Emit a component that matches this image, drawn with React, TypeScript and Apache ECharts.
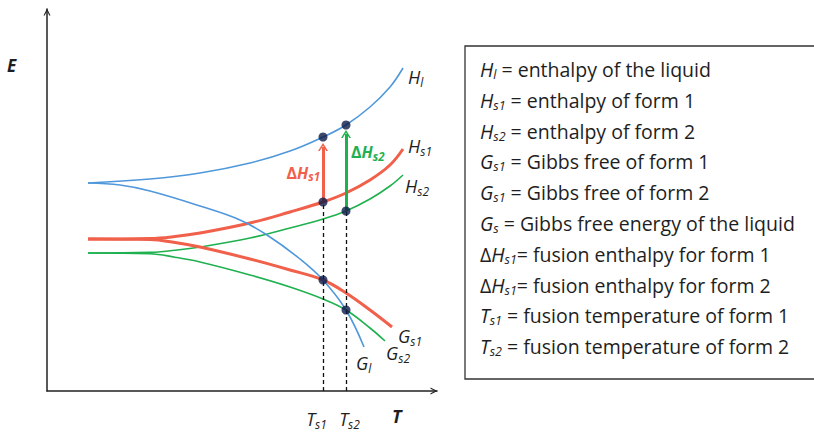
import React, { useEffect, useRef } from "react";
import * as echarts from "echarts";

// ---- data (T, E) ----
const T_S1 = 276;
const T_S2 = 299;

const H_L: [number, number][] = [
  [41, 208], [103, 212], [153, 218], [203, 228], [243, 240], [276, 254],
  [299, 266], [323, 284], [343, 304], [356, 323],
];
const G_L: [number, number][] = [
  [41, 208], [73, 206], [103, 200], [153, 185], [193, 171], [220, 156],
  [253, 132], [276, 111], [299, 81], [317, 44],
];
const H_S1: [number, number][] = [
  [41, 152], [103, 152.5], [128, 154.5], [153, 158], [203, 168], [243, 179], [276, 189],
  [299, 198], [323, 211], [343, 226], [356, 242],
];
const G_S1: [number, number][] = [
  [41, 152], [103, 151.5], [128, 148.5], [153, 144], [203, 132], [243, 121], [276, 111],
  [299, 98], [323, 81], [345, 64],
];
const H_S2: [number, number][] = [
  [41, 138], [103, 138.6], [128, 140.8], [153, 144], [203, 153], [243, 163], [276, 172],
  [299, 180], [323, 192], [343, 205], [356, 216],
];
const G_S2: [number, number][] = [
  [41, 138], [103, 137.3], [128, 133.8], [153, 129], [203, 116], [243, 104], [276, 92],
  [299, 81], [323, 63], [338, 50],
];

const X_MAX = 390;
const Y_MAX = 382;

const LEGEND_LINES: string[] = [
  "{i|H}{s|l}{n| = enthalpy of the liquid}",
  "{i|H}{s|s1}{n| = enthalpy of form 1}",
  "{i|H}{s|s2}{n| = enthalpy of form 2}",
  "{i|G}{s|s1}{n| = Gibbs free of form 1}",
  "{i|G}{s|s1}{n| = Gibbs free of form 2}",
  "{i|G}{s|s}{n| = Gibbs free energy of the liquid}",
  "{n|Δ}{i|H}{s|s1}{n|= fusion enthalpy for form 1}",
  "{n|Δ}{i|H}{s|s1}{n|= fusion enthalpy for form 2}",
  "{i|T}{s|s1}{n| = fusion temperature of form 1}",
  "{i|T}{s|s2}{n| = fusion temperature of form 2}",
];

const FONT = "Open Sans";
const TXT = "#1e1e1e";
const BLUE = "#4f98db";
const RED = "#f0604a";
const GREEN = "#1fb14f";
const DOT = "#0c1a47";
const CHEVRON = "path://M0,10 L5,0 L10,10 L8.3,10 L5,3.4 L1.7,10 Z";

const at = (arr: [number, number][], x: number) => {
  const p = arr.find((d) => d[0] === x);
  return p ? p[1] : 0;
};

const labelRich = {
  i: { fontFamily: FONT, fontStyle: "italic", fontSize: 18, color: TXT, lineHeight: 24, verticalAlign: "middle" },
  s: { fontFamily: FONT, fontStyle: "italic", fontSize: 12, color: TXT, lineHeight: 14, padding: [10, 0, 0, 0], verticalAlign: "middle" },
};

function curve(name: string, data: [number, number][], color: string, width: number, label: string, offset: number[]) {
  return {
    name,
    type: "line",
    data,
    smooth: 0.4,
    showSymbol: false,
    symbol: "none",
    silent: true,
    lineStyle: { color, width },
    z: 3,
    endLabel: {
      show: true,
      formatter: label,
      distance: 0,
      offset,
      align: "left",
      verticalAlign: "middle",
      rich: labelRich,
    },
  };
}

export default function App() {
  const ref = useRef<HTMLDivElement>(null);
  useEffect(() => {
    document.body.style.margin = "0";
    if (!ref.current) return;
    const chart = echarts.init(ref.current, undefined, { renderer: "svg" });

    const hl1 = at(H_L, T_S1), hl2 = at(H_L, T_S2);
    const hs1 = at(H_S1, T_S1), hs2 = at(H_S2, T_S2);
    const g1 = at(G_S1, T_S1), g2 = at(G_S2, T_S2);

    const legendRich = {
      i: { fontFamily: FONT, fontStyle: "italic", fontSize: 19.5, fill: TXT, lineHeight: 30.8, verticalAlign: "middle" },
      s: { fontFamily: FONT, fontStyle: "italic", fontSize: 12.5, fill: TXT, lineHeight: 14, padding: [10, 0, 0, 0], verticalAlign: "middle" },
      n: { fontFamily: FONT, fontSize: 19.5, fill: TXT, lineHeight: 30.8, verticalAlign: "middle" },
    };

    const boldRich = (color: string) => ({
      d: { fontFamily: FONT, fontWeight: "bold", fontSize: 16, color, lineHeight: 22 },
      h: { fontFamily: FONT, fontWeight: "bold", fontStyle: "italic", fontSize: 16, color, lineHeight: 22 },
      s: { fontFamily: FONT, fontWeight: "bold", fontStyle: "italic", fontSize: 11.5, color, lineHeight: 13, padding: [8, 0, 0, 0] },
    });

    chart.setOption({
      animation: false,
      grid: { left: 47, right: 377, top: 9, bottom: 41 },
      xAxis: {
        type: "value",
        min: 0,
        max: X_MAX,
        splitLine: { show: false },
        axisTick: { show: false },
        axisLine: {
          show: true,
          lineStyle: { color: "#222", width: 1.5 },
          symbol: ["none", CHEVRON],
          symbolSize: [10, 7],
          symbolOffset: [0, -3],
        },
        axisLabel: {
          show: true,
          customValues: [T_S1, T_S2],
          margin: 16,
          formatter: (v: number) => (v === T_S1 ? "{T|T}{s|s1}{p1|}" : "{p2|}{T|T}{s|s2}"),
          rich: {
            T: { fontFamily: FONT, fontStyle: "italic", fontSize: 18, color: TXT, lineHeight: 24, verticalAlign: "middle" },
            s: { fontFamily: FONT, fontStyle: "italic", fontSize: 12, color: TXT, lineHeight: 14, padding: [10, 0, 0, 0], verticalAlign: "middle" },
            p1: { width: 13 },
            p2: { width: 7 },
          },
        },
      },
      yAxis: {
        type: "value",
        min: 0,
        max: Y_MAX,
        splitLine: { show: false },
        axisTick: { show: false },
        axisLabel: { show: false },
        axisLine: {
          show: true,
          lineStyle: { color: "#222", width: 1.5 },
          symbol: ["none", CHEVRON],
          symbolSize: [9, 7],
          symbolOffset: [0, -3],
        },
      },
      series: [
        {
          name: "guides",
          type: "line",
          data: [],
          silent: true,
          markLine: {
            silent: true,
            symbol: ["none", "none"],
            label: { show: false },
            lineStyle: { color: "#111", width: 1.3, type: [4, 3] },
            data: [
              [{ coord: [T_S1, 0] }, { coord: [T_S1, hs1] }],
              [{ coord: [T_S2, 0] }, { coord: [T_S2, hs2] }],
            ],
          },
        },
        curve("G_S2", G_S2, GREEN, 1.6, "{i|G}{s|s2}", [1, 12]),
        curve("H_S2", H_S2, GREEN, 1.6, "{i|H}{s|s2}", [2, 11]),
        curve("G_S1", G_S1, RED, 3, "{i|G}{s|s1}", [6, 9]),
        curve("H_S1", H_S1, RED, 3, "{i|H}{s|s1}", [5, -3]),
        curve("G_L", G_L, BLUE, 1.6, "{i|G}{s|l}", [-8, 16]),
        curve("H_L", H_L, BLUE, 1.6, "{i|H}{s|l}", [5, 9]),
        {
          name: "fusion",
          type: "line",
          data: [],
          silent: true,
          z: 4,
          markLine: {
            silent: true,
            symbol: ["none", CHEVRON],
            symbolSize: [10, 8],
            label: { show: false },
            data: [
              [
                { coord: [T_S1, hs1], lineStyle: { color: RED, width: 3, type: "solid" } },
                { coord: [T_S1, hl1 - 10] },
              ],
              [
                { coord: [T_S2, hs2], lineStyle: { color: GREEN, width: 3, type: "solid" } },
                { coord: [T_S2, hl2 - 9] },
              ],
            ],
          },
          markPoint: {
            silent: true,
            symbol: "circle",
            symbolSize: 0,
            data: [
              {
                coord: [T_S1, (hs1 + hl1) / 2],
                label: {
                  show: true,
                  position: "left",
                  distance: 3,
                  offset: [0, 3],
                  formatter: "{d|Δ}{h|H}{s|s1}",
                  rich: boldRich(RED),
                },
              },
              {
                coord: [T_S2, (hs2 + hl2) / 2],
                label: {
                  show: true,
                  position: "right",
                  distance: 5,
                  offset: [0, -16],
                  formatter: "{d|Δ}{h|H}{s|s2}",
                  rich: boldRich(GREEN),
                },
              },
            ],
          },
        },
        {
          name: "points",
          type: "scatter",
          silent: true,
          z: 5,
          symbolSize: 9,
          itemStyle: { color: DOT },
          data: [
            [T_S1, hl1], [T_S2, hl2], [T_S1, hs1], [T_S2, hs2], [T_S1, g1], [T_S2, g2],
          ],
        },
      ],
      graphic: [
        {
          type: "text",
          left: 7,
          top: 57,
          style: { text: "E", font: `italic bold 17px ${FONT}`, fill: TXT },
        },
        {
          type: "text",
          left: 392,
          top: 407,
          style: { text: "T", font: `italic bold 18px ${FONT}`, fill: TXT },
        },
        {
          type: "rect",
          shape: { x: 465, y: 46, width: 380, height: 333 },
          style: { fill: "none", stroke: "#333", lineWidth: 1.3 },
        },
        {
          type: "text",
          x: 480,
          y: 54,
          style: {
            text: LEGEND_LINES.join("\n"),
            rich: legendRich,
            fill: TXT,
            verticalAlign: "top",
          },
        },
      ],
    });
    return () => chart.dispose();
  }, []);
  return <div ref={ref} style={{ width: 814, height: 432 }} />;
}
